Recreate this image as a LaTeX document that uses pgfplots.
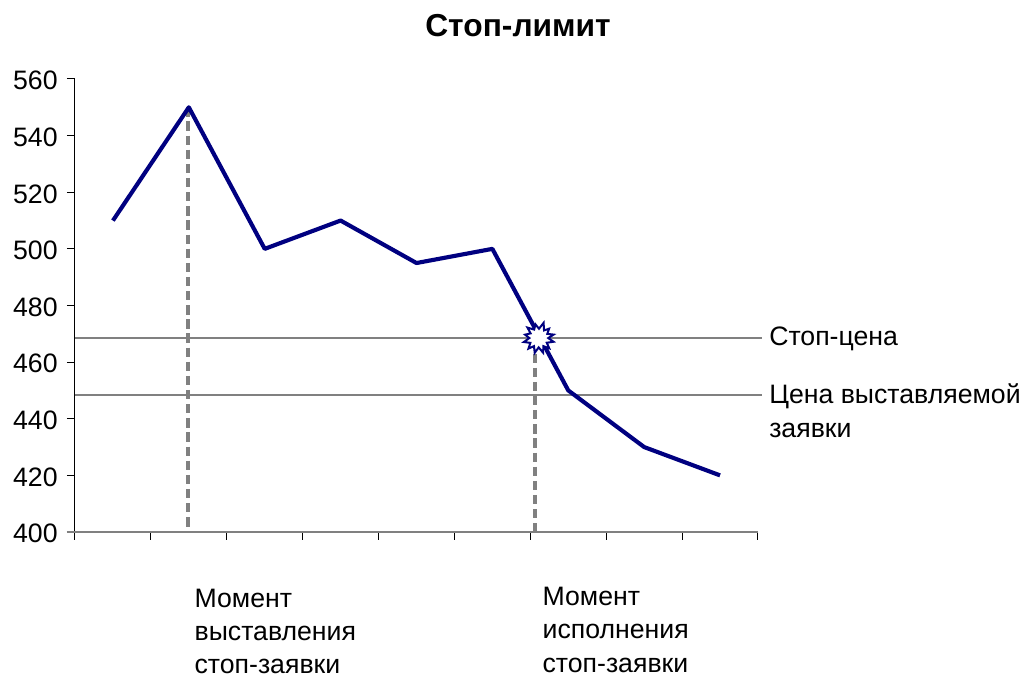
\documentclass[border=0pt]{standalone}
\usepackage{fontspec}
\setmainfont{Liberation Sans}
\usepackage{pgfplots}
\pgfplotsset{compat=1.18}
\definecolor{navyline}{RGB}{0,0,128}
\definecolor{grayline}{RGB}{128,128,128}
\pgfdeclareplotmark{burst}{%
  \pgfpathmoveto{\pgfpointpolar{0}{7.2pt}}%
  \foreach \a/\r in {13/11.5,26/7.2,42/10.5,55/7.0,72/12.0,88/7.0,103/10.5,118/7.2,137/11.5,150/7.0,166/10.5,180/7.0,195/11.5,210/7.2,226/11,240/7.0,255/11.5,270/7.0,287/11.5,300/7.0,316/11,330/7.0,346/11.5}{%
    \pgfpathlineto{\pgfpointpolar{\a}{\r pt}}%
  }%
  \pgfpathclose
  \pgfusepathqfillstroke
}
\begin{document}
\begin{tikzpicture}
\useasboundingbox (-56.25pt,-108.75pt) rectangle (712.5pt,399pt);
\begin{axis}[
  at={(0pt,0pt)}, anchor=south west,
  scale only axis, width=512.25pt, height=339.75pt,
  xmin=-0.5, xmax=8.5, ymin=400, ymax=560,
  axis x line*=bottom, axis y line*=left,
  axis line style={black,line width=0.75pt,-},
  xtick={-0.5,0.5,...,8.5}, xticklabels={},
  ytick={400,420,...,560},
  tick align=outside, tick pos=left,
  major tick length=6pt,
  tick style={black,line width=0.75pt},
  y tick label style={font=\fontsize{20}{20}\selectfont,xshift=-3.5pt,yshift=-1.2pt},
  /pgf/number format/assume math mode=true,
  clip=false,
]
\addplot[grayline,line width=1.5pt] coordinates {(-0.6,400) (8.5,400)};
\addplot[grayline,line width=1.4pt] coordinates {(-0.5,468.6) (8.55,468.6)};
\addplot[grayline,line width=1.4pt] coordinates {(-0.5,448.5) (8.55,448.5)};
\addplot[grayline,line width=2.6pt,dash pattern=on 7pt off 3.6pt] coordinates {(0.99,550) (0.99,400)};
\addplot[grayline,line width=2.6pt,dash pattern=on 7pt off 3.6pt] coordinates {(5.56,468) (5.56,400)};
\addplot[navyline,line width=3.1pt,line join=round] coordinates {
(0,510) (1,550) (2,500) (3,510) (4,495) (5,500) (6,450) (7,430) (8,420)};
\addplot[only marks,mark=burst,mark options={draw=navyline,fill=white,line width=1.5pt,solid}] coordinates {(5.61,468.5)};
\end{axis}
\node[font=\bfseries\fontsize{23.8}{23.8}\selectfont,anchor=center] at (332.25pt,379.5pt) {Стоп-лимит};
\def\fs{\fontsize{20}{20}\selectfont}
\node[font=\fs,anchor=west,inner sep=0pt] at (520.5pt,144.75pt) {Стоп-цена};
\node[font=\fs,anchor=west,inner sep=0pt] at (520.5pt,102pt) {Цена выставляемой};
\node[font=\fs,anchor=west,inner sep=0pt] at (520.5pt,76pt) {заявки};
\node[font=\fs,anchor=west,inner sep=0pt] at (89.5pt,-49.5pt) {Момент};
\node[font=\fs,anchor=west,inner sep=0pt] at (89.5pt,-75.75pt) {выставления};
\node[font=\fs,anchor=west,inner sep=0pt] at (89.5pt,-101pt) {стоп-заявки};
\node[font=\fs,anchor=west,inner sep=0pt] at (350.5pt,-48pt) {Момент};
\node[font=\fs,anchor=west,inner sep=0pt] at (350.5pt,-74.25pt) {исполнения};
\node[font=\fs,anchor=west,inner sep=0pt] at (350.5pt,-100pt) {стоп-заявки};
\end{tikzpicture}
\end{document}
